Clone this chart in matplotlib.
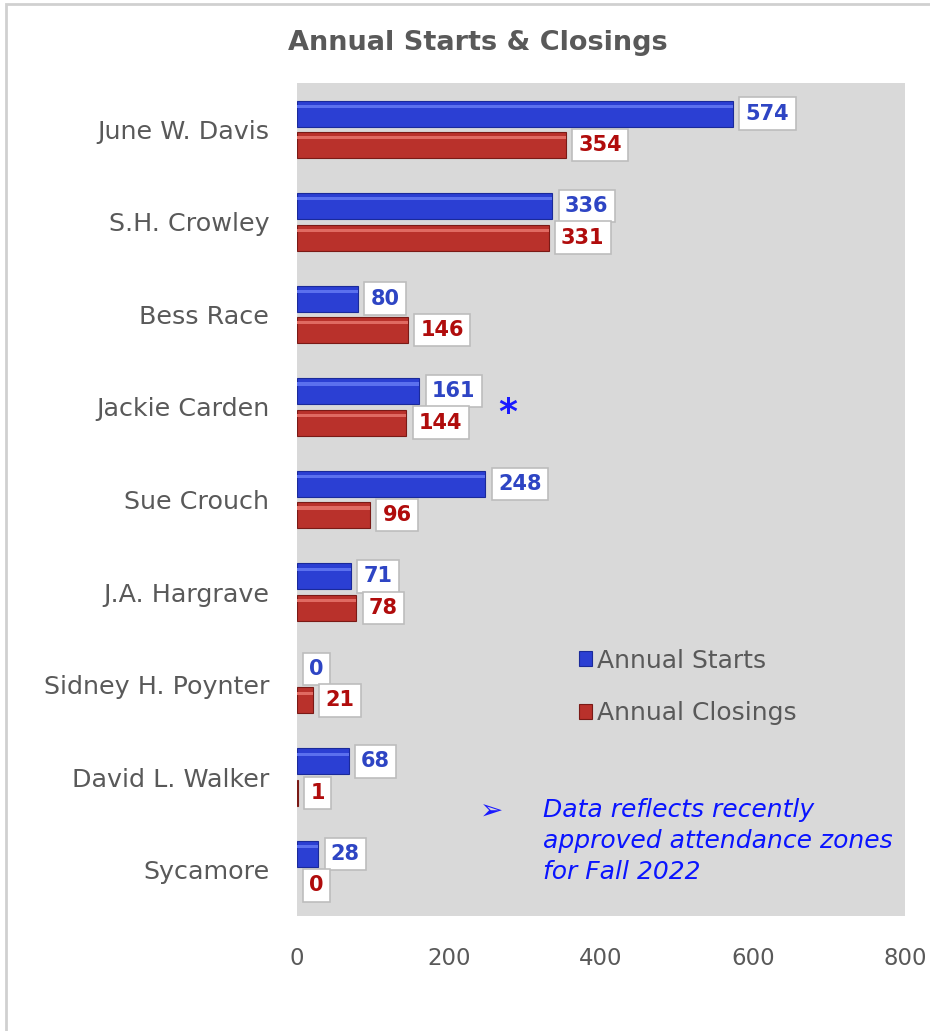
import matplotlib.pyplot as plt
from matplotlib.patches import Rectangle

# data
schools = ["June W. Davis", "S.H. Crowley", "Bess Race", "Jackie Carden", "Sue Crouch",
           "J.A. Hargrave", "Sidney H. Poynter", "David L. Walker", "Sycamore"]
starts = [574, 336, 80, 161, 248, 71, 0, 68, 28]
closings = [354, 331, 146, 144, 96, 78, 21, 1, 0]
x_ticks = [0, 200, 400, 600, 800]

BLUE = "#2b3fd3"
RED = "#b9312b"
BLUE_TXT = "#2e45c4"
RED_TXT = "#b00c0c"
GREY_TXT = "#595959"

plt.rcParams["font.family"] = ["DejaVu Sans"]

fig = plt.figure(figsize=(9.3, 10.31), dpi=100)
ax = fig.add_axes([297 / 930, 1 - 916 / 1031, 608 / 930, 833 / 1031])
ax.set_facecolor("#d9d9d9")

ypos = list(range(len(schools)))
h = 0.28
off = 0.17
b1 = ax.barh([y - off for y in ypos], starts, height=h, color=BLUE,
             edgecolor="#1a2a9a", linewidth=[0.8 if v > 0 else 0 for v in starts],
             label="Annual Starts")
b2 = ax.barh([y + off for y in ypos], closings, height=h, color=RED,
             edgecolor="#7a1a16", linewidth=[0.8 if v > 0 else 0 for v in closings],
             label="Annual Closings")

# thin highlight stripe for a bit of the bevelled look
for y, v in zip(ypos, starts):
    if v > 1:
        ax.barh(y - off - h * 0.28, v, height=h * 0.12, color="#5b70ee", linewidth=0)
for y, v in zip(ypos, closings):
    if v > 1:
        ax.barh(y + off - h * 0.28, v, height=h * 0.12, color="#e06a62", linewidth=0)

box = dict(boxstyle="square,pad=0.3", fc="white", ec="#bdbdbd", lw=1.2)
for y, v in zip(ypos, starts):
    ax.annotate(str(v), (v, y - off), xytext=(9, 0), textcoords="offset points",
                ha="left", va="center", fontsize=15, fontweight="bold",
                color=BLUE_TXT, bbox=box)
for y, v in zip(ypos, closings):
    ax.annotate(str(v), (v, y + off), xytext=(9, 0), textcoords="offset points",
                ha="left", va="center", fontsize=15, fontweight="bold",
                color=RED_TXT, bbox=box)

ax.set_xlim(0, 800)
ax.set_ylim(len(schools) - 0.5, -0.5)
ax.set_yticks(ypos)
ax.set_yticklabels(schools, fontsize=18.3, color=GREY_TXT)
ax.set_xticks(x_ticks)
ax.set_xticklabels([str(t) for t in x_ticks], fontsize=16.5, color=GREY_TXT)
ax.tick_params(length=0)
ax.tick_params(axis="x", pad=22)
ax.tick_params(axis="y", pad=20)
for s in ax.spines.values():
    s.set_visible(False)

fig.text(478 / 930, 1 - 43 / 1031, "Annual Starts & Closings", ha="center", va="center",
         fontsize=19.5, fontweight="bold", color=GREY_TXT)

fig.text(508 / 930, 1 - 413 / 1031, "*", ha="center", va="center",
         fontsize=26, fontweight="bold", color="#1a1aff")

leg = ax.legend(handles=[b1, b2], loc="upper left", bbox_to_anchor=(556 / 930, 1 - 626 / 1031),
                bbox_transform=fig.transFigure, frameon=False, fontsize=18,
                handlelength=0.55, handleheight=0.55, handletextpad=0.2, labelspacing=1.15)
for t in leg.get_texts():
    t.set_color(GREY_TXT)

fig.text(492 / 930, 1 - 812 / 1031, "\u27a2", ha="center", va="center", fontsize=20,
         color="#1a1aff")
fig.text(543 / 930, 1 - 798 / 1031,
         "Data reflects recently\napproved attendance zones\nfor Fall 2022",
         ha="left", va="top", fontsize=18, style="italic", color="#0a14ff", linespacing=1.36)

# outer frame like the slide border
fig.add_artist(Rectangle((6 / 930, -0.01), 1.0, 1 - 4 / 1031 + 0.01, transform=fig.transFigure,
                         fill=False, ec="#d0d0d0", lw=2))

fig.savefig("out.png", dpi=100)
